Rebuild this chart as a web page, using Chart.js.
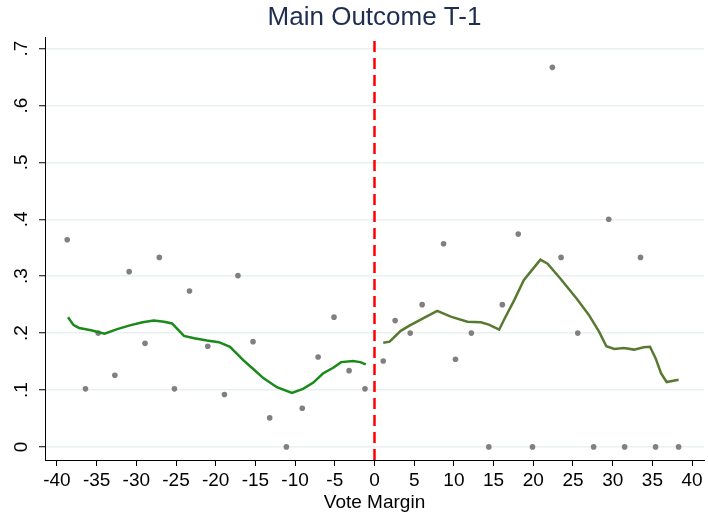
<!DOCTYPE html>
<html>
<head>
<meta charset="utf-8">
<script src="https://cdn.jsdelivr.net/npm/chart.js@4.4.1/dist/chart.umd.min.js"></script>
<style>
  html, body { margin: 0; padding: 0; background: #fff; }
  #wrap { width: 708px; height: 514px; }
</style>
</head>
<body>
<div id="wrap"><canvas id="myChart" width="708" height="514"></canvas></div>
<script>
// binned scatter, left of cutoff
const leftX = [-38.7, -36.4, -34.8, -32.7, -30.9, -28.9, -27.1, -25.2, -23.3, -21.0, -18.9, -17.2, -15.3, -13.2, -11.1, -9.1, -7.1, -5.1, -3.2, -1.2]
const leftY = [0.364, 0.102, 0.200, 0.126, 0.308, 0.182, 0.333, 0.102, 0.274, 0.177, 0.092, 0.301, 0.185, 0.051, 0.0, 0.068, 0.158, 0.228, 0.134, 0.102]

// binned scatter, right of cutoff
const rightX = [1.1, 2.6, 4.5, 6.0, 8.7, 10.2, 12.2, 14.4, 16.1, 18.1, 19.9, 22.4, 23.5, 25.6, 27.6, 29.5, 31.5, 33.5, 35.4, 38.3]
const rightY = [0.151, 0.222, 0.200, 0.250, 0.357, 0.154, 0.200, 0.0, 0.250, 0.374, 0.0, 0.667, 0.333, 0.200, 0.0, 0.400, 0.0, 0.333, 0.0, 0.0]

// smoothed fit, left side
const fitLeftX = [-38.6, -37.9, -37.2, -35.7, -34.0, -32.4, -30.7, -29.2, -27.8, -26.5, -25.5, -24.0, -22.7, -21.1, -19.6, -18.2, -16.5, -15.2, -14.0, -12.3, -10.4, -9.0, -7.7, -6.5, -5.2, -4.2, -2.7, -1.8, -1.1]
const fitLeftY = [0.228, 0.214, 0.209, 0.205, 0.199, 0.207, 0.214, 0.219, 0.222, 0.220, 0.217, 0.195, 0.191, 0.187, 0.184, 0.176, 0.152, 0.136, 0.121, 0.105, 0.095, 0.102, 0.113, 0.129, 0.139, 0.149, 0.151, 0.149, 0.145]

// smoothed fit, right side
const fitRightX = [1.1, 1.9, 3.3, 4.4, 6.0, 7.9, 9.6, 11.7, 13.4, 14.4, 15.7, 16.3, 17.6, 18.8, 19.9, 20.9, 21.8, 23.4, 25.5, 27.0, 28.3, 29.2, 30.2, 31.4, 32.7, 33.9, 34.7, 35.4, 36.1, 36.8, 38.3]
const fitRightY = [0.183, 0.185, 0.204, 0.213, 0.225, 0.239, 0.229, 0.220, 0.219, 0.215, 0.206, 0.223, 0.258, 0.293, 0.312, 0.329, 0.322, 0.296, 0.260, 0.232, 0.202, 0.177, 0.172, 0.174, 0.171, 0.175, 0.176, 0.156, 0.129, 0.114, 0.118]

const xTicks = [-40, -35, -30, -25, -20, -15, -10, -5, 0, 5, 10, 15, 20, 25, 30, 35, 40]
const yTicks = [0, 0.1, 0.2, 0.3, 0.4, 0.5, 0.6, 0.7]
const yTickLabels = ['0', '.1', '.2', '.3', '.4', '.5', '.6', '.7']

const cutoff = 0
const yMin = -0.023
const yMax = 0.72

const toPts = (xs, ys) => xs.map((x, i) => ({ x: x, y: ys[i] }))

const fontFam = "'Liberation Sans', Arial, Helvetica, sans-serif"

// stata style y labels: turned 90 degrees, reading upward
const yLabelPlugin = {
  id: 'yLabels',
  afterDraw: chart => {
    const c = chart.ctx
    const sc = chart.scales.y
    c.save()
    c.fillStyle = '#000'
    c.font = '19px ' + fontFam
    c.textAlign = 'center'
    c.textBaseline = 'middle'
    yTicks.forEach((v, i) => {
      const py = sc.getPixelForValue(v)
      c.save()
      c.translate(sc.right - 23, py)
      c.rotate(-Math.PI / 2)
      c.fillText(yTickLabels[i], 0, 0)
      c.restore()
    })
    c.restore()
  }
}

const ctx = document.querySelector('#myChart').getContext('2d')

let myChart = new Chart(ctx, {
  type: 'scatter',
  data: {
    datasets: [
      {
        label: 'cutoff',
        type: 'line',
        data: [{ x: cutoff, y: yMin }, { x: cutoff, y: yMax }],
        borderColor: 'rgb(255, 0, 0)',
        borderWidth: 2.5,
        borderDash: [11, 6],
        pointRadius: 0,
        order: 0
      },
      {
        label: 'fit left',
        type: 'line',
        data: toPts(fitLeftX, fitLeftY),
        borderColor: 'rgb(26, 138, 26)',
        borderWidth: 2.5,
        pointRadius: 0,
        tension: 0,
        order: 1
      },
      {
        label: 'fit right',
        type: 'line',
        data: toPts(fitRightX, fitRightY),
        borderColor: 'rgb(88, 122, 48)',
        borderWidth: 2.5,
        pointRadius: 0,
        tension: 0,
        order: 1
      },
      {
        label: 'bins left',
        data: toPts(leftX, leftY),
        backgroundColor: 'rgb(128, 128, 128)',
        borderWidth: 0,
        pointRadius: 2.8,
        order: 2
      },
      {
        label: 'bins right',
        data: toPts(rightX, rightY),
        backgroundColor: 'rgb(128, 128, 128)',
        borderWidth: 0,
        pointRadius: 2.8,
        order: 2
      }
    ]
  },
  options: {
    responsive: false,
    animation: false,
    layout: { padding: { left: 0, right: 2, top: 0, bottom: 0 } },
    plugins: {
      legend: { display: false },
      tooltip: { enabled: false },
      title: {
        display: true,
        fullSize: false,
        text: 'Main Outcome T-1',
        color: 'rgb(30, 45, 80)',
        font: { family: fontFam, size: 26, weight: 'normal', lineHeight: 1.2 },
        padding: { top: 2, bottom: 4 }
      }
    },
    scales: {
      x: {
        type: 'linear',
        min: -41.5,
        max: 41.5,
        afterBuildTicks: ax => { ax.ticks = xTicks.map(v => ({ value: v })) },
        afterFit: ax => { ax.height = 54 },
        grid: { display: true, drawOnChartArea: false, tickLength: 6, tickColor: '#000', tickWidth: 1 },
        border: { color: '#000', width: 1 },
        ticks: {
          color: '#000',
          font: { family: fontFam, size: 19, lineHeight: 1.1 },
          padding: 4,
          maxRotation: 0,
          autoSkip: false
        },
        title: {
          display: true,
          text: 'Vote Margin',
          color: '#000',
          font: { family: fontFam, size: 19, lineHeight: 1.1 },
          padding: { top: 0, bottom: 1 }
        }
      },
      y: {
        type: 'linear',
        min: yMin,
        max: yMax,
        afterBuildTicks: ax => { ax.ticks = yTicks.map(v => ({ value: v })) },
        afterFit: ax => { ax.width = 45 },
        grid: { color: 'rgb(232, 240, 242)', lineWidth: 1.5, tickLength: 6, tickColor: '#000', tickWidth: 1 },
        border: { color: '#000', width: 1 },
        ticks: { display: false }
      }
    }
  },
  plugins: [yLabelPlugin]
})
</script>
</body>
</html>
